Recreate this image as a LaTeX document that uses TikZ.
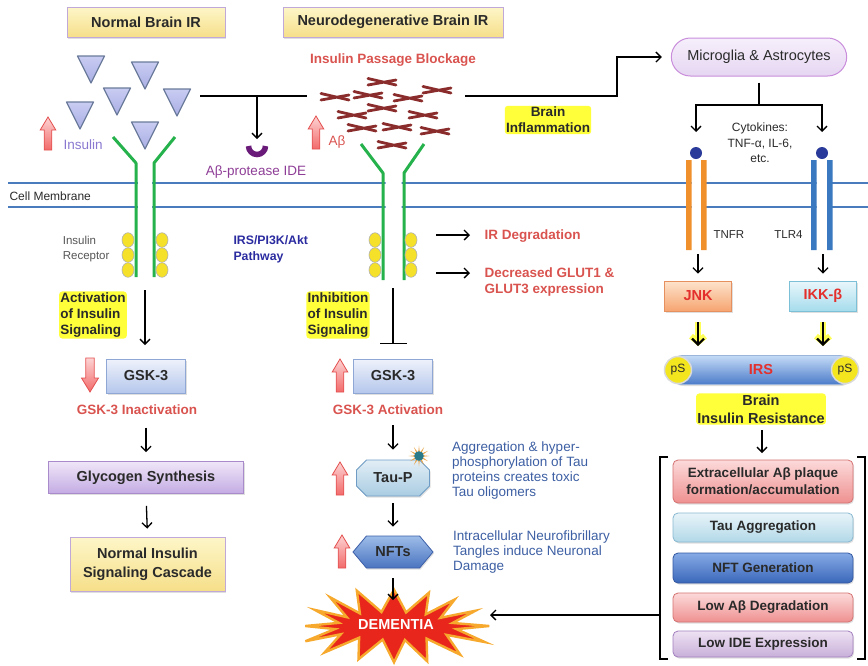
\documentclass[tikz,border=0pt]{standalone}
\usepackage{fontspec}
\setmainfont{Liberation Sans}
\usetikzlibrary{arrows.meta,shapes.misc,shapes.geometric,shapes.symbols,shadows,calc}

\definecolor{memblue}{HTML}{4A7BBD}
\definecolor{recgreen}{HTML}{25B14B}
\definecolor{txtred}{HTML}{D9534F}
\definecolor{boxred}{HTML}{E3302C}
\definecolor{txtblue}{HTML}{3D5FA3}
\definecolor{pathblue}{HTML}{2B2BA0}
\definecolor{idepurple}{HTML}{8E3D96}
\definecolor{cuppurple}{HTML}{6A1B7A}
\definecolor{inslav}{HTML}{8A78D0}
\definecolor{fibrilred}{HTML}{8B2C2C}
\definecolor{hilite}{HTML}{FFFF3A}
\definecolor{darktxt}{HTML}{2A2A2A}
\definecolor{graytxt}{HTML}{555555}
\definecolor{yellowA}{HTML}{FDF6C8}
\definecolor{yellowB}{HTML}{F6DF8A}
\definecolor{titleline}{HTML}{C0A8D8}
\definecolor{trA}{HTML}{C9CCF2}
\definecolor{trB}{HTML}{A9AEE4}
\definecolor{trline}{HTML}{6B7B9B}
\definecolor{gskA}{HTML}{EEF2FB}
\definecolor{gskB}{HTML}{B5C7EC}
\definecolor{gskline}{HTML}{8FA7D4}
\definecolor{glyA}{HTML}{EFE6F8}
\definecolor{glyB}{HTML}{C4ABE3}
\definecolor{glyline}{HTML}{A98BCB}
\definecolor{tauA}{HTML}{E2EEF6}
\definecolor{tauB}{HTML}{A9CCE2}
\definecolor{tauline}{HTML}{6E9CC4}
\definecolor{nftA}{HTML}{9DBCE8}
\definecolor{nftB}{HTML}{4A74C0}
\definecolor{nftline}{HTML}{3C5FA8}
\definecolor{jnkA}{HTML}{FDE3CC}
\definecolor{jnkB}{HTML}{F6A571}
\definecolor{jnkline}{HTML}{E69060}
\definecolor{ikkA}{HTML}{E9F7FB}
\definecolor{ikkB}{HTML}{A6DCEC}
\definecolor{ikkline}{HTML}{7CC0D8}
\definecolor{irsA}{HTML}{C4DBF7}
\definecolor{irsB}{HTML}{4B7BC9}
\definecolor{irsline}{HTML}{9BB5DA}
\definecolor{plqA}{HTML}{FCDADA}
\definecolor{plqB}{HTML}{EF9090}
\definecolor{plqline}{HTML}{D57272}
\definecolor{tagA}{HTML}{E8F4F9}
\definecolor{tagB}{HTML}{B2D8E8}
\definecolor{tagline}{HTML}{88B8D0}
\definecolor{ngA}{HTML}{86AAE5}
\definecolor{ngB}{HTML}{3A67BA}
\definecolor{ngline}{HTML}{3358A0}
\definecolor{ideA}{HTML}{EEE2F3}
\definecolor{ideB}{HTML}{C8AFD9}
\definecolor{ideline}{HTML}{A27FBF}
\definecolor{micA}{HTML}{F6EFFB}
\definecolor{micB}{HTML}{E6D6F2}
\definecolor{micline}{HTML}{C98DDB}
\definecolor{tnfrorange}{HTML}{F0902C}
\definecolor{tlrblue}{HTML}{3A78C0}
\definecolor{dotblue}{HTML}{2A3A9A}
\definecolor{dotyellow}{HTML}{F5E12A}
\definecolor{psyellow}{HTML}{F3E51E}
\definecolor{pinkA}{HTML}{FDD3D3}
\definecolor{pinkB}{HTML}{F26A6A}
\definecolor{pinkline}{HTML}{E45050}
\definecolor{starred}{HTML}{E8261C}
\definecolor{starline}{HTML}{F6A92C}
\definecolor{sunorange}{HTML}{E9A040}
\definecolor{sunteal}{HTML}{2A7A8A}

\newcommand\fsTitle{\fontsize{14.5}{17}\selectfont}
\newcommand\fsBody{\fontsize{13.5}{16}\selectfont}
\newcommand\fsSmall{\fontsize{12}{15.5}\selectfont}

\tikzset{
  shadowed/.style={drop shadow={opacity=0.25, shadow xshift=1pt, shadow yshift=-1.5pt}},
  titlebox/.style={draw=titleline, line width=0.9pt, top color=yellowA, bottom color=yellowB,
    minimum height=30pt, font=\fsTitle\bfseries, text=darktxt, shadowed},
  gskbox/.style={draw=gskline, line width=0.8pt, top color=gskA, bottom color=gskB,
    minimum width=79pt, minimum height=34pt, font=\fsTitle\bfseries, text=darktxt, shadowed},
  glybox/.style={draw=glyline, line width=0.8pt, top color=glyA, bottom color=glyB,
    minimum width=195pt, minimum height=32pt, font=\fsTitle\bfseries, text=darktxt, shadowed},
  castbox/.style={draw=titleline, line width=0.8pt, top color=yellowA, bottom color=yellowB,
    minimum width=155pt, minimum height=54pt, align=center, font=\fontsize{14.5}{19}\selectfont\bfseries, text=darktxt, shadowed},
  taubox/.style={chamfered rectangle, chamfered rectangle xsep=5pt, chamfered rectangle ysep=5pt,
    draw=tauline, line width=0.8pt, top color=tauA, bottom color=tauB,
    minimum width=73pt, minimum height=36pt, font=\fsTitle\bfseries, text=darktxt, shadowed},
  nftbox/.style={signal, signal to=west and east, signal pointer angle=100,
    draw=nftline, line width=0.8pt, top color=nftA, bottom color=nftB,
    minimum width=80pt, minimum height=32pt, font=\fsTitle\bfseries, text=darktxt, shadowed},
  kinbox/.style={line width=0.8pt, minimum width=67pt, minimum height=30pt,
    font=\fsTitle\bfseries, text=boxred, shadowed},
  micbox/.style={rounded rectangle, draw=micline, line width=1pt, top color=micA, bottom color=micB,
    minimum width=182pt, minimum height=38pt, font=\fsTitle, text=darktxt},
  irsbar/.style={rounded rectangle, draw=irsline, line width=0.8pt, top color=irsA, bottom color=irsB,
    minimum width=192pt, minimum height=29pt, font=\fsTitle\bfseries, text=boxred, shadowed},
  psdot/.style={circle, fill=psyellow, draw=black!15, line width=1.5pt, minimum size=27pt,
    inner sep=0pt, font=\fsSmall, text=darktxt},
  listbox/.style={rounded corners=5pt, line width=0.8pt, minimum width=180pt,
    align=center, font=\fontsize{13.5}{17}\selectfont\bfseries, text=darktxt, shadowed},
  hl/.style={fill=hilite, rounded corners=3pt, inner sep=1.2pt, align=left,
    font=\fontsize{13.5}{16}\selectfont\bfseries, text=darktxt},
  redlbl/.style={font=\fsBody\bfseries, text=txtred},
  desc/.style={align=left, font=\fontsize{13.5}{14.8}\selectfont, text=txtblue, inner sep=0pt},
  arr/.style={line width=1.3pt, -{Straight Barb[length=5pt,width=10pt]}},
  plain/.style={line width=1.3pt},
  glowarr/.style={line width=2.2pt, -{Straight Barb[length=6pt,width=12pt]},
    preaction={draw=hilite, line width=6pt, opacity=0.85, -{Straight Barb[length=6pt,width=14pt]}}},
  ligand/.pic={\draw[draw=trline, line width=1.2pt, line join=round, top color=trA, bottom color=trB]
    (-13.5,0) -- (13.5,0) -- (0,27) -- cycle;},
  fibril/.pic={\draw[fibrilred, line width=2.8pt, line cap=round]
    (-14,-3.5) -- (14,3) (-14,3) -- (14,-2);},
  pinkup/.pic={\draw[draw=pinkline, line width=0.8pt, top color=pinkA, bottom color=pinkB]
    (-3.8,0) -- (-3.8,-20) -- (-7.8,-20) -- (0,-33) -- (7.8,-20) -- (3.8,-20) -- (3.8,0) -- cycle;},
  pinkdown/.pic={\draw[draw=pinkline, line width=0.8pt, top color=pinkA, bottom color=pinkB]
    (-4.2,0) -- (-4.2,20) -- (-8.5,20) -- (0,34) -- (8.5,20) -- (4.2,20) -- (4.2,0) -- cycle;},
}

\begin{document}
\begin{tikzpicture}[x=1pt,y=-1pt]
\useasboundingbox (0,0) rectangle (868,665);

% ---------- cell membrane ----------
\draw[memblue, line width=2.2pt] (8,183) -- (868,183) (8,207) -- (868,207);
\fill[white] (138,178) rectangle (152,212) (385.5,178) rectangle (401.5,212)
             (691.5,178) rectangle (701,212) (816.5,178) rectangle (827,212);
\node[anchor=west, font=\fsSmall, text=darktxt] (memlbl) at (6,196) {Cell Membrane};

% ---------- headers ----------
\node[titlebox, minimum width=158pt] (hdrN) at (146,22) {Normal Brain IR};
\node[titlebox, minimum width=220pt] (hdrD) at (393,22) {Neurodegenerative Brain IR};

% ---------- insulin ligands ----------
\foreach \px/\py in {91/56, 145/62, 117/88, 177/89, 80/102, 145/122}
  \pic at (\px,\py) {ligand};
\pic at (48,150) {pinkup};
\node[anchor=west, font=\fsBody, text=inslav] (inslbl) at (60,145) {Insulin};

% ---------- insulin receptors ----------
\draw[recgreen, line width=3pt, line join=round]
  (113,137) -- (136,163) -- (136,277) (175,137) -- (154,163) -- (154,277);
\draw[recgreen, line width=3pt, line join=round]
  (361,144) -- (383,173) -- (383,280) (424,144) -- (404,173) -- (404,280);
\foreach \px in {128,162,375,411}
  \foreach \py in {240,255,270}
    \draw[draw=gray!60, fill=dotyellow, line width=0.6pt] (\px,\py) ellipse [x radius=6, y radius=7.3];
\node[anchor=east, align=left, font=\fontsize{11.5}{15}\selectfont, text=graytxt] (irlbl) at (113,249.5) {Insulin\\Receptor};
\node[anchor=west, align=left, font=\fontsize{12.3}{15.5}\selectfont\bfseries, text=pathblue] (pathlbl) at (230,249.5) {IRS/PI3K/Akt\\Pathway};

% ---------- insulin line, IDE ----------
\coordinate (insEnd) at (200,96);
\coordinate (blockL) at (307,96);
\coordinate (ideTop) at (257,96);
\coordinate (ideEnd) at (257,139);
\draw[plain] (insEnd) -- (blockL);
\draw[arr] (ideTop) -- (ideEnd);
\draw[cuppurple, line width=5.5pt] (248.5,146) arc[start angle=180, end angle=0, radius=8.5];
\node[font=\fsBody, text=idepurple] (idelbl) at (256,172) {Aβ-protease IDE};

% ---------- amyloid beta blockage ----------
\node[redlbl] (blocklbl) at (393,60) {Insulin Passage Blockage};
\foreach \px/\py in {382/82, 335/97, 368/95, 408/98, 437/90, 352/115, 382/108, 423/115, 362/128, 397/127, 435/131, 392/145}
  \pic at (\px,\py) {fibril};
\pic at (316,149) {pinkup};
\node[anchor=west, font=\fsBody, text=txtred] (ablbl) at (325,142) {Aβ};

\coordinate (blockR) at (465,96);
\coordinate (bend) at (617,96);
\node[micbox] (micro) at (759,57) {Microglia \& Astrocytes};
\draw[arr, shorten >=9pt] (blockR) -- (bend) |- (micro.west);
\node[hl, align=center] (inflam) at (548,120) {Brain\\Inflammation};

% ---------- cytokine receptors ----------
\coordinate (split) at (759,105);
\coordinate (tnfrTop) at (696,132);
\coordinate (tlrTop) at (822,132);
\draw[plain, shorten <=6pt] (micro.south) -- (split);
\draw[arr] (split) -| (tnfrTop);
\draw[arr] (split) -| (tlrTop);
\node[align=center, font=\fontsize{12}{15.5}\selectfont, text=darktxt] (cyto) at (760,143) {Cytokines:\\TNF-α, IL-6,\\etc.};
\fill[tnfrorange] (686,160) rectangle (691.5,250) (701,160) rectangle (706.5,250);
\fill[tlrblue] (811,160) rectangle (816.5,250) (827,160) rectangle (832.5,250);
\fill[dotblue] (696,153) circle (6) (822,153) circle (6);
\node[anchor=west, font=\fontsize{11.5}{14}\selectfont, text=darktxt] (tnfrlbl) at (710,235) {TNFR};
\node[anchor=east, font=\fontsize{11.5}{14}\selectfont, text=darktxt] (tlrlbl) at (806,235) {TLR4};

\node[kinbox, draw=jnkline, top color=jnkA, bottom color=jnkB] (jnk) at (698,296) {JNK};
\node[kinbox, draw=ikkline, top color=ikkA, bottom color=ikkB] (ikk) at (823,296) {IKK-β};
\coordinate (tnfrBot) at (698,254);
\coordinate (tlrBot) at (823,254);
\draw[arr, shorten >=7pt] (tnfrBot) -- (jnk.north);
\draw[arr, shorten >=7pt] (tlrBot) -- (ikk.north);

\node[irsbar] (irs) at (761,370) {IRS};
\node[psdot] (psL) at (678,370) {pS};
\node[psdot] (psR) at (845,370) {pS};
\draw[glowarr, shorten <=11pt, shorten >=9pt] (jnk.south) -- (jnk.south |- irs.north);
\draw[glowarr, shorten <=11pt, shorten >=9pt] (ikk.south) -- (ikk.south |- irs.north);

\node[hl, align=center, font=\fontsize{14.5}{18}\selectfont\bfseries] (bir) at (761,409) {Brain\\Insulin Resistance};
\coordinate (birArr) at (762,430);
\coordinate (brTop) at (762,453);
\draw[arr] (birArr) -- (brTop);

% ---------- outcome list ----------
\draw[plain] (668,457) -- (660,457) -- (660,659) -- (668,659);
\draw[plain] (857,457) -- (865,457) -- (865,659) -- (857,659);
\node[listbox, draw=plqline, top color=plqA, bottom color=plqB, minimum height=43pt] (plaque) at (763,481.5) {Extracellular Aβ plaque\\formation/accumulation};
\node[listbox, draw=tagline, top color=tagA, bottom color=tagB, minimum height=29pt] (tauagg) at (763,527.5) {Tau Aggregation};
\node[listbox, draw=ngline, top color=ngA, bottom color=ngB, minimum height=30pt] (nftgen) at (763,568) {NFT Generation};
\node[listbox, draw=plqline, top color=plqA, bottom color=plqB, minimum height=29pt] (lowdeg) at (763,607.5) {Low Aβ Degradation};
\node[listbox, draw=ideline, top color=ideA, bottom color=ideB, minimum height=26pt] (lowide) at (763,644) {Low IDE Expression};

% ---------- normal signalling (left) ----------
\node[hl] (actlbl) at (93,315) {Activation\\of Insulin\\Signaling};
\coordinate (recL) at (145,290);
\coordinate (recLend) at (145,345);
\draw[arr] (recL) -- (recLend);
\node[gskbox] (gskL) at (146,376) {GSK-3};
\pic at (90,358) {pinkdown};
\node[redlbl] (inact) at (137,410) {GSK-3 Inactivation};
\node[glybox] (glyco) at (146,477.5) {Glycogen Synthesis};
\node[castbox] (casc) at (147.5,564) {Normal Insulin\\Signaling Cascade};
\draw[arr, shorten <=9pt, shorten >=9pt] (inact.south -| glyco.north) -- (glyco.north);
\draw[arr, shorten <=12pt, shorten >=8pt] (glyco.south) -- (casc.north);

% ---------- impaired signalling (middle) ----------
\node[hl] (inhlbl) at (338,315) {Inhibition\\of Insulin\\Signaling};
\coordinate (recM) at (393,288);
\coordinate (recMend) at (393,344);
\draw[line width=1.3pt, -{Bar[width=27pt, line width=1.3pt]}] (recM) -- (recMend);
\node[gskbox] (gskM) at (393,376) {GSK-3};
\pic at (340,392) {pinkup};
\node[redlbl] (actM) at (388,410) {GSK-3 Activation};

\coordinate (irArr1) at (436,235);
\coordinate (irArr2) at (436,273);
\node[anchor=west, redlbl] (irdeg) at (481,236) {IR Degradation};
\node[anchor=west, redlbl, align=left, font=\fontsize{13.5}{16}\selectfont\bfseries] (glut) at (481,282) {Decreased GLUT1 \&\\GLUT3 expression};
\draw[arr, shorten >=11pt] (irArr1) -- (irArr1 -| irdeg.west);
\draw[arr, shorten >=11pt] (irArr2) -- (irArr2 -| irdeg.west);

\node[taubox] (tau) at (393,478) {Tau-P};
\filldraw[fill=sunorange, draw=none] plot[samples at={0,15,...,345}, variable=\t]
  ({419+cos(\t)*(6.8+3.6*cos(12*\t))},{456+sin(\t)*(6.8+3.6*cos(12*\t))}) -- cycle;
\fill[sunteal] (419,456) circle (4.8);
\pic at (340,495) {pinkup};
\node[anchor=west, desc] (taudesc) at (452,470.5) {Aggregation \& hyper-\\phosphorylation of Tau\\proteins creates toxic\\Tau oligomers};
\draw[arr, shorten <=32pt, shorten >=10pt] (gskM.south) -- (tau.north);

\node[nftbox] (nfts) at (393,552) {NFTs};
\pic at (342,568) {pinkup};
\node[anchor=west, desc] (nftdesc) at (453,552) {Intracellular Neurofibrillary\\Tangles induce Neuronal\\Damage};
\draw[arr, shorten <=7pt, shorten >=9pt] (tau.south) -- (nfts.north);

% ---------- dementia ----------
\filldraw[fill=starred, draw=starline, line width=2.4pt, line join=miter]
  plot[samples at={0,11.25,...,348.75}, variable=\t]
  ({394+cos(\t)*(76+16*cos(16*\t))*(1+0.07*sin(3*\t+30))},
   {626+sin(\t)*(27+12*cos(16*\t))*(1+0.08*sin(2*\t+60))}) -- cycle;
\node[font=\fsTitle\bfseries, text=white] (dem) at (396,625) {DEMENTIA};
\coordinate (demTop) at (393,600);
\draw[arr, shorten <=10pt] (nfts.south) -- (demTop);
\coordinate (brL) at (660,615);
\coordinate (demR) at (490,615);
\draw[arr] (brL) -- (demR);

\end{tikzpicture}
\end{document}
